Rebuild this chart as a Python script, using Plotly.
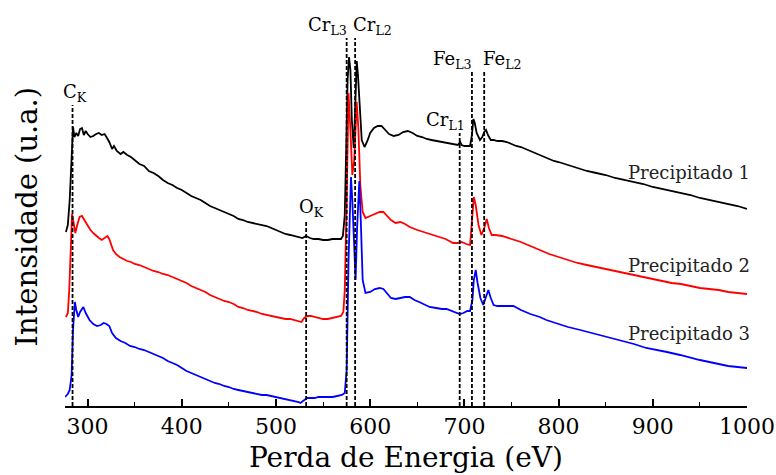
import plotly.graph_objects as go

# Energy loss (eV) and intensity (u.a.) for each precipitate
e1 = [277, 279, 281, 283, 284.5, 286, 288, 290, 292, 294, 296, 298, 300, 303, 306, 309, 312, 315, 318, 320,
      323, 326, 328, 331, 335, 338, 342, 346, 350, 355, 360, 365, 370, 375, 380, 385, 390, 395, 400, 405,
      410, 415, 420, 425, 430, 435, 440, 445, 450, 455, 460, 465, 470, 475, 480, 485, 490, 495, 500, 505,
      510, 515, 520, 525, 528, 532, 536, 540, 545, 550, 555, 560, 565, 569, 571, 573, 574.5, 576, 577.5, 579,
      580.5, 582.5, 584, 585.7, 587, 589, 591, 594, 597, 600, 604, 608, 612, 616, 620, 625, 630, 635, 640, 645,
      650, 655, 660, 665, 670, 675, 680, 685, 690, 693, 695.5, 697, 700, 703, 706, 708, 709.5, 711, 713, 716.5,
      719, 721, 723, 725, 728, 731, 735, 740, 745, 750, 755, 760, 765, 770, 775, 780, 785, 790, 795, 800,
      810, 820, 830, 840, 850, 860, 870, 880, 890, 900, 910, 920, 930, 940, 950, 960, 970, 980, 990, 1000]
p1 = [174, 181, 206, 256, 279, 269, 273, 270, 277, 278, 271, 275, 272, 269, 270, 272, 273, 271, 272, 269,
      264, 257, 260, 255, 252, 254, 251, 249, 246, 242, 240, 235, 233, 230, 226, 223, 221, 218, 216, 213,
      210, 208, 206, 203, 200, 198, 196, 194, 192, 190, 187, 186, 184, 183, 182, 181, 180, 178, 176, 174,
      172, 171, 170, 169, 168, 170, 168, 167, 167, 166, 166, 167, 167, 167, 170, 191, 256, 326, 349, 336,
      286, 258, 296, 345, 331, 291, 266, 259, 265, 273, 278, 280, 280, 276, 272, 270, 271, 274, 275, 273,
      270, 269, 267, 266, 265, 264, 263, 262, 261, 261, 264, 261, 260, 260, 260, 271, 287, 283, 273, 266,
      269, 274, 276, 271, 266, 266, 265, 265, 264, 262, 260, 259, 257, 255, 253, 251, 249, 247, 245, 244,
      241, 238, 235, 233, 231, 228, 226, 224, 222, 219, 217, 215, 213, 211, 208, 206, 204, 202, 200, 197]

e2 = [277, 279, 280.5, 282, 283.5, 285, 287, 289, 291.5, 294, 297, 300, 303, 306, 309, 312, 315, 318, 321, 323,
      325, 327, 330, 334, 338, 342, 346, 350, 355, 360, 365, 370, 375, 380, 385, 390, 395, 400, 405, 410,
      415, 420, 425, 430, 435, 440, 445, 450, 455, 460, 465, 470, 475, 480, 485, 490, 495, 500, 505, 510,
      515, 520, 524, 527, 530, 533, 537, 541, 545, 550, 555, 560, 565, 569, 571.5, 573, 575, 577, 579, 581,
      583, 585.7, 587.5, 589.5, 592, 595, 600, 605, 610, 614, 618, 622, 627, 632, 637, 642, 650, 660, 670, 680,
      688, 693, 697, 699, 702, 706, 708, 710, 712, 715, 718, 721, 723.7, 726, 729, 733, 740, 750, 760, 770,
      780, 790, 800, 810, 820, 830, 840, 850, 860, 870, 880, 890, 900, 910, 920, 930, 940, 950, 960, 970,
      980, 990, 1000]
p2 = [89, 93, 116, 166, 192, 184, 173, 181, 189, 190, 185, 180, 176, 173, 170, 168, 166, 168, 170, 167,
      162, 156, 152, 149, 147, 145, 144, 142, 141, 139, 137, 135, 134, 132, 131, 129, 127, 125, 123, 120,
      118, 116, 114, 111, 109, 107, 105, 104, 102, 99, 98, 96, 95, 94, 92, 91, 90, 89, 88, 87,
      87, 86, 85, 84, 88, 90, 90, 89, 88, 87, 87, 88, 89, 90, 94, 116, 206, 313, 276, 231,
      246, 304, 276, 221, 194, 188, 190, 192, 194, 194, 190, 186, 183, 184, 182, 179, 176, 173, 170, 167,
      163, 163, 164, 163, 162, 161, 181, 209, 201, 181, 171, 178, 187, 178, 171, 171, 170, 167, 164, 160,
      156, 152, 149, 146, 143, 141, 139, 137, 135, 133, 131, 129, 127, 125, 123, 122, 120, 118, 117, 116,
      114, 113, 112]

e3 = [276, 279, 281, 283, 284.5, 286.5, 288, 290, 292, 295.5, 298, 302, 306, 310, 314, 317, 320, 323, 326, 330,
      335, 340, 345, 350, 355, 360, 365, 370, 375, 380, 385, 390, 395, 400, 405, 410, 415, 420, 425, 430,
      435, 440, 445, 450, 455, 460, 465, 470, 475, 480, 485, 490, 495, 500, 505, 510, 515, 520, 524, 526,
      529, 533, 537, 541, 545, 550, 555, 560, 565, 570, 573, 575, 577, 579.6, 581, 583, 584.5, 586, 588.4, 590,
      592, 595, 600, 605, 610, 614, 618, 622, 627, 632, 637, 642, 647, 652, 657, 663, 670, 676, 681, 686,
      691, 695, 699, 703, 706, 708.5, 710, 712, 714, 717, 720, 723, 725.4, 728, 731, 735, 740, 745, 752, 760,
      770, 780, 787, 800, 810, 823, 835, 845, 858, 870, 880, 893, 905, 915, 929, 940, 950, 960, 970, 980,
      990, 1000]
p3 = [9, 12, 16, 31, 76, 104, 96, 89, 94, 99, 93, 86, 82, 80, 81, 83, 82, 80, 73, 68,
      65, 63, 60, 59, 57, 56, 54, 52, 50, 48, 45, 43, 41, 38, 35, 33, 31, 29, 27, 25,
      23, 22, 20, 19, 17, 16, 15, 14, 13, 12, 11, 11, 10, 9, 8, 7, 6, 5, 4, 3,
      5, 8, 8, 8, 9, 9, 9, 9, 10, 11, 13, 36, 146, 229, 206, 156, 126, 176, 225, 186,
      126, 113, 114, 117, 118, 117, 112, 108, 107, 108, 109, 109, 106, 104, 102, 99, 98, 97, 97, 95,
      93, 92, 93, 95, 95, 106, 126, 136, 123, 108, 101, 109, 116, 108, 101, 100, 100, 100, 100, 96,
      92, 89, 86, 82, 79, 76, 73, 71, 68, 65, 62, 58, 56, 54, 51, 48, 46, 44, 42, 40,
      39, 38]

series_names = ["Precipitado 1", "Precipitado 2", "Precipitado 3"]
series_colors = ["#000000", "#ff0000", "#0000ff"]
label_levels = [234, 141, 73]

# Edge markers
edge_energy = [284, 532, 575, 584, 695, 708, 721]
edge_text = ["C<sub>K</sub>", "O<sub>K</sub>", "Cr<sub>L3</sub>", "Cr<sub>L2</sub>",
             "Cr<sub>L1</sub>", "Fe<sub>L3</sub>", "Fe<sub>L2</sub>"]
edge_top = [301, 186, 368, 368, 273, 334, 334]
edge_anchor = ["center", "center", "right", "left", "right", "right", "left"]
edge_shift = [2, 5, 2, -4, 7, 2, -3]

x_ticks = [300, 400, 500, 600, 700, 800, 900, 1000]

FONT = "DejaVu Serif"

fig = go.Figure()
for xs, ys, name, col in zip([e1, e2, e3], [p1, p2, p3], series_names, series_colors):
    fig.add_trace(go.Scatter(x=xs, y=ys, mode="lines", name=name,
                             line=dict(color=col, width=1.8), showlegend=False))

for ex, top, txt, anc, sh in zip(edge_energy, edge_top, edge_text, edge_anchor, edge_shift):
    fig.add_shape(type="line", xref="x", yref="y", x0=ex, x1=ex, y0=0, y1=top,
                  line=dict(color="black", width=1.8, dash="4px,2px"))
    fig.add_annotation(x=ex, y=top, xref="x", yref="y", text=txt, showarrow=False,
                       xanchor=anc, yanchor="bottom", xshift=sh, yshift=-2,
                       font=dict(family=FONT, size=18, color="black"))

for name, lvl in zip(series_names, label_levels):
    fig.add_annotation(x=1000, y=lvl, xref="x", yref="y", text=name, showarrow=False,
                       xanchor="right", yanchor="middle", xshift=5,
                       font=dict(family=FONT, size=18, color="#222222"))

fig.add_annotation(x=0.5, y=-0.13, xref="paper", yref="paper", text="Perda de Energia (eV)",
                   showarrow=False, xanchor="center", yanchor="middle",
                   font=dict(family=FONT, size=28, color="black"))
fig.add_annotation(x=-0.055, y=0.475, xref="paper", yref="paper", text="Intensidade (u.a.)",
                   showarrow=False, xanchor="center", yanchor="middle", textangle=-90,
                   font=dict(family=FONT, size=29, color="black"))

fig.update_layout(
    width=776, height=475,
    margin=dict(l=65, r=29, t=6, b=69),
    paper_bgcolor="white", plot_bgcolor="white",
    font=dict(family=FONT, color="black"),
    xaxis=dict(range=[276, 1000], tickvals=x_ticks, ticks="inside", ticklen=7, tickwidth=1.5,
               tickcolor="black", showline=True, linecolor="black", linewidth=1.5,
               showgrid=False, zeroline=False, ticklabeloverflow="allow", automargin=False,
               minor=dict(dtick=50, tick0=250, ticks="inside", ticklen=4, tickwidth=1.2, tickcolor="black"),
               tickfont=dict(family=FONT, size=22, color="black")),
    yaxis=dict(range=[0, 400], showticklabels=False, showgrid=False, zeroline=False, showline=False,
               ticks="", automargin=False),
)

fig.write_html("out.html")
